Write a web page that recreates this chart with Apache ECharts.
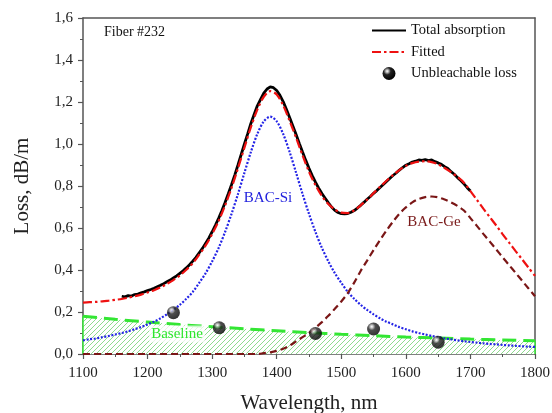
<!DOCTYPE html>
<html>
<head>
<meta charset="utf-8">
<script src="https://cdn.jsdelivr.net/npm/echarts@6/dist/echarts.min.js"></script>
<style>
html,body{margin:0;padding:0;background:#fff;}
#chart{width:552px;height:413px;}
</style>
</head>
<body>
<div id="chart"></div>
<script>
// ---- data ----
const wl = [1100,1110,1120,1130,1140,1150,1160,1170,1180,1190,
  1200,1210,1220,1230,1240,1250,1260,1270,1280,1290,
  1300,1310,1320,1330,1340,1350,1360,1370,1380,1390,
  1400,1410,1420,1430,1440,1450,1460,1470,1480,1490,
  1500,1510,1520,1530,1540,1550,1560,1570,1580,1590,
  1600,1610,1620,1630,1640,1650,1660,1670,1680,1690,
  1700,1710,1720,1730,1740,1750,1760,1770,1780,1790,1800];
const bacSi = [.065,.070,.074,.080,.086,.093,.100,.108,.118,.128,
  .141,.154,.170,.189,.210,.234,.263,.296,.339,.385,
  .441,.505,.581,.667,.762,.863,.962,1.048,1.108,1.130,
  1.108,1.048,.962,.863,.762,.667,.581,.505,.441,.385,
  .339,.296,.263,.234,.210,.189,.170,.154,.141,.128,
  .118,.108,.100,.093,.086,.080,.074,.070,.065,.061,
  .057,.054,.051,.048,.046,.043,.041,.039,.037,.035,.034];
const bacGe = [0,0,0,0,0,0,0,0,0,0,
  0,0,0,0,0,0,0,0,0,0,
  0,0,0,0,0,0,0,0,.004,.008,
  .015,.025,.040,.060,.080,.100,.125,.152,.182,.215,
  .250,.290,.340,.395,.445,.495,.543,.588,.630,.668,
  .698,.722,.738,.747,.750,.746,.736,.722,.705,.683,
  .647,.610,.572,.535,.498,.460,.423,.386,.349,.312,.275];
const fitted = [.245,.247,.248,.251,.254,.258,.262,.268,.275,.283,
  .293,.304,.317,.334,.352,.374,.401,.432,.473,.517,
  .571,.633,.707,.791,.884,.983,1.080,1.164,1.225,1.252,
  1.236,1.184,1.110,1.030,.946,.868,.804,.752,.714,.688,
  .673,.671,.684,.708,.735,.766,.796,.825,.852,.876,
  .896,.909,.916,.918,.914,.903,.886,.866,.843,.816,
  .776,.734,.692,.652,.612,.570,.530,.490,.451,.411,.372];
const baseWl = [1100,1150,1200,1250,1300,1350,1400,1450,1500,1550,1600,1650,1700,1750,1800];
const baseline = [.180,.165,.152,.140,.130,.120,.111,.102,.094,.087,.081,.076,.071,.067,.063];
const totalWl = [1160,1165,1170,1175,1180,1185,1190,1195,1200,1205,
  1210,1215,1220,1225,1230,1235,1240,1245,1250,1255,
  1260,1265,1270,1275,1280,1285,1290,1295,1300,1305,
  1310,1315,1320,1325,1330,1335,1340,1345,1350,1355,
  1360,1365,1370,1375,1380,1385,1390,1395,1400,1405,
  1410,1415,1420,1425,1430,1435,1440,1445,1450,1455,
  1460,1465,1470,1475,1480,1485,1490,1495,1500,1505,
  1510,1515,1520,1525,1530,1535,1540,1545,1550,1555,
  1560,1565,1570,1575,1580,1585,1590,1595,1600,1605,
  1610,1615,1620,1625,1630,1635,1640,1645,1650,1655,
  1660,1665,1670,1675,1680,1685,1690,1695,1700];
const total = [.275,.272,.278,.276,.283,.285,.291,.296,.302,.307,
  .313,.320,.327,.335,.344,.352,.362,.372,.384,.396,
  .410,.425,.442,.460,.482,.503,.528,.553,.582,.613,
  .646,.682,.721,.763,.806,.852,.900,.950,1.000,1.048,
  1.098,1.140,1.182,1.212,1.242,1.262,1.272,1.268,1.255,1.232,
  1.202,1.165,1.126,1.086,1.045,1.003,.962,.922,.884,.850,
  .818,.790,.764,.742,.720,.700,.684,.674,.668,.667,
  .669,.675,.683,.695,.708,.722,.737,.750,.765,.778,
  .793,.807,.822,.836,.850,.862,.876,.888,.899,.906,
  .914,.918,.924,.922,.926,.921,.924,.916,.910,.903,
  .892,.883,.868,.856,.840,.826,.810,.792,.776];
const dotWl = [1240,1311,1460,1550,1650];
const dotLoss = [0.197,0.125,0.098,0.119,0.056];
const xTicks = {min:1100, max:1800, step:100};
const yTicks = {min:0, max:1.6, step:0.2};

// ---- helpers ----
const zip = (xs, ys) => xs.map((x, i) => [x, ys[i]]);
const serif = 'Liberation Serif';

// hatch pattern for the baseline area
const hatch = document.createElement('canvas');
hatch.width = 5; hatch.height = 5;
(function(){
  const c = hatch.getContext('2d');
  c.fillStyle = '#ffffff'; c.fillRect(0,0,5,5);
  c.strokeStyle = '#8edb8e'; c.lineWidth = 1;
  c.beginPath();
  c.moveTo(-1,6); c.lineTo(6,-1);
  c.moveTo(-1,1); c.lineTo(1,-1);
  c.moveTo(4,6); c.lineTo(6,4);
  c.stroke();
})();

const chart = echarts.init(document.getElementById('chart'), null, {renderer:'canvas'});
const axisColor = '#555';
const dotColor = {type:'radial', x:0.36, y:0.32, r:0.7, colorStops:[
  {offset:0, color:'#ffffff'}, {offset:0.15, color:'#bbbbbb'},
  {offset:0.4, color:'#222222'}, {offset:1, color:'#000'}]};

const option = {
  backgroundColor: '#fff',
  animation: false,
  grid: {left:83, right:17, top:18, bottom:59, containLabel:false, outerBoundsMode:'none'},
  legend: {
    data: [
      {name:'Total absorption'},
      {name:'Fitted'},
      {name:'Unbleachable loss', itemStyle:{opacity:1, color:dotColor}}
    ],
    orient: 'vertical', left: 371, top: 23, padding: 0,
    itemWidth: 34, itemHeight: 13, itemGap: 6.5,
    itemStyle: {opacity: 0},
    textStyle: {fontFamily: serif, fontSize: 14.5, color: '#111'}
  },
  xAxis: [{
    type: 'value', min: xTicks.min, max: xTicks.max, interval: xTicks.step,
    axisLine: {onZero:false, lineStyle:{color:axisColor, width:1.5}},
    axisTick: {length:5, lineStyle:{color:axisColor, width:1.2}},
    minorTick: {show:true, splitNumber:2, length:3, lineStyle:{color:axisColor, width:1}},
    splitLine: {show:false},
    axisLabel: {color:'#222', fontFamily:serif, fontSize:15, margin:12,
      formatter: v => String(v)},
    name: 'Wavelength, nm', nameLocation: 'middle', nameGap: 39,
    nameTextStyle: {fontFamily:serif, fontSize:21, color:'#222'}
  },{
    type: 'value', position: 'top', min: xTicks.min, max: xTicks.max,
    axisLine: {onZero:false, lineStyle:{color:axisColor, width:1.5}},
    axisTick:{show:false}, axisLabel:{show:false}, splitLine:{show:false}
  }],
  yAxis: [{
    type: 'value', min: yTicks.min, max: yTicks.max, interval: yTicks.step,
    axisLine: {show:true, onZero:false, lineStyle:{color:axisColor, width:1.5}},
    axisTick: {show:true, length:5, lineStyle:{color:axisColor, width:1.2}},
    minorTick: {show:true, splitNumber:2, length:3, lineStyle:{color:axisColor, width:1}},
    splitLine: {show:false},
    axisLabel: {color:'#222', fontFamily:serif, fontSize:15, margin:10,
      formatter: v => v.toFixed(1).replace('.', ',')},
    name: 'Loss, dB/m', nameLocation: 'middle', nameGap: 50,
    nameTextStyle: {fontFamily:serif, fontSize:21, color:'#222'}
  },{
    type: 'value', position: 'right', min: yTicks.min, max: yTicks.max,
    axisLine: {show:true, onZero:false, lineStyle:{color:axisColor, width:1.5}},
    axisTick:{show:false}, axisLabel:{show:false}, splitLine:{show:false}
  }],
  series: [
    {
      name: 'Baseline', type: 'line', data: zip(baseWl, baseline),
      symbol: 'none', smooth: 0.3, z: 1,
      lineStyle: {color:'#33e633', width:3, type:[14,7]},
      areaStyle: {color: {image: hatch, repeat: 'repeat'}, opacity: 1, origin: 'start'}
    },
    {
      name: 'edgeL', type: 'line', symbol: 'none', z: 1,
      data: [[baseWl[0], 0], [baseWl[0], baseline[0]]],
      lineStyle: {color:'#33e633', width:1.5}
    },
    {
      name: 'edgeR', type: 'line', symbol: 'none', z: 1,
      data: [[baseWl[baseWl.length-1], 0], [baseWl[baseWl.length-1], baseline[baseline.length-1]]],
      lineStyle: {color:'#33e633', width:1.5}
    },
    {
      name: 'BAC-Si', type: 'line', data: zip(wl, bacSi),
      symbol: 'none', smooth: 0.3, z: 2,
      lineStyle: {color:'#2323e6', width:2.2, type:[2,1.6]}
    },
    {
      name: 'BAC-Ge', type: 'line', data: zip(wl, bacGe),
      symbol: 'none', smooth: 0.3, z: 2,
      lineStyle: {color:'#7a1616', width:2.2, type:[7,4]}
    },
    {
      name: 'Total absorption', type: 'line', data: zip(totalWl, total),
      symbol: 'none', z: 3,
      itemStyle: {color:'#000'},
      lineStyle: {color:'#000', width:2.8}
    },
    {
      name: 'Fitted', type: 'line', data: zip(wl, fitted),
      symbol: 'none', smooth: 0.3, z: 4,
      itemStyle: {color:'#ee1111'},
      lineStyle: {color:'#ee1111', width:2.2, type:[9,3,2.5,3]}
    },
    {
      name: 'Unbleachable loss', type: 'scatter', data: zip(dotWl, dotLoss),
      symbol: 'circle', symbolSize: 13, z: 5,
      itemStyle: {color: dotColor}
    }
  ],
  graphic: [
    {type:'text', left:104, top:25, z:10,
      style:{text:'Fiber #232', fill:'#111', font:'14px "Liberation Serif"'}},
    {type:'text', x:268, y:198, z:10,
      style:{text:'BAC-Si', fill:'#2222dd', font:'15px "Liberation Serif"', align:'center', verticalAlign:'middle'}},
    {type:'text', x:434, y:222, z:10,
      style:{text:'BAC-Ge', fill:'#7a1a1a', font:'15px "Liberation Serif"', align:'center', verticalAlign:'middle'}},
    {type:'text', x:177, y:334, z:10,
      style:{text:'Baseline', fill:'#2ee62e', font:'15px "Liberation Serif"', align:'center', verticalAlign:'middle',
        backgroundColor:'rgba(255,255,255,0.75)', padding:[1,2]}}
  ]
};
chart.setOption(option);
</script>
</body>
</html>
